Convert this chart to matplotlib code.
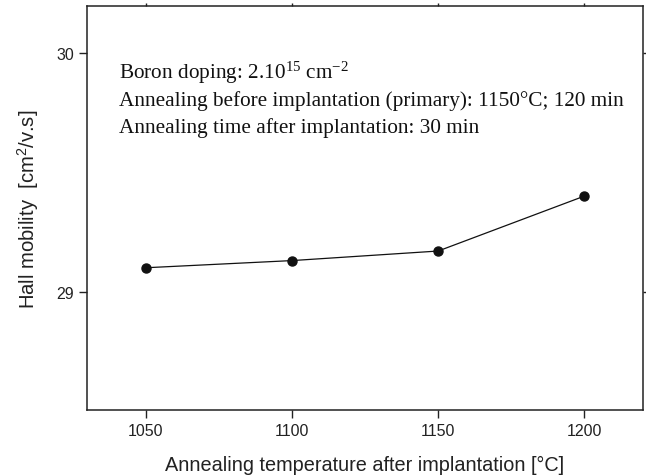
import matplotlib
matplotlib.use("Agg")
import matplotlib.pyplot as plt

temperature = [1050, 1100, 1150, 1200]
mobility = [29.10, 29.13, 29.17, 29.40]
xticks = [1050, 1100, 1150, 1200]
yticks = [29, 30]

plt.rcParams['mathtext.fontset'] = 'custom'
plt.rcParams['mathtext.rm'] = 'Liberation Serif'
plt.rcParams['mathtext.it'] = 'Liberation Serif:italic'
plt.rcParams['mathtext.sf'] = 'Liberation Sans'
plt.rcParams['font.family'] = ['Liberation Sans', 'DejaVu Sans']

fig = plt.figure(figsize=(6.46, 4.77), dpi=100)
ax = fig.add_axes([87/646, 1-411/477, (643-87)/646, (411-7)/477])

ax.plot(temperature, mobility, color='#111111', lw=0.9, marker='o',
        markersize=6.5, markerfacecolor='#111111', markeredgecolor='#111111')

ax.set_xlim(1030, 1220)
ax.set_ylim(28.505, 30.195)
ax.set_xticks(xticks)
ax.set_yticks(yticks)
ax.tick_params(axis='both', direction='out', length=6, width=1, labelsize=11.5, colors='#222222')
for s in ax.spines.values():
    s.set_linewidth(1.1)
    s.set_color('#222222')

ax.set_xlabel('Annealing temperature after implantation [°C]', fontsize=14.3, color='#222222', labelpad=12)
ax.set_ylabel(r'Hall mobility  [cm$^{\mathsf{2}}$/v.s]', fontsize=14.6, color='#222222', labelpad=11)

# small mirrored ticks on top and right
ax.tick_params(axis='x', which='major', top=True, labeltop=False)
ax.tick_params(axis='y', which='major', right=True, labelright=False)
for t in ax.xaxis.get_major_ticks():
    t.tick2line.set_markersize(2)
for t in ax.yaxis.get_major_ticks():
    t.tick2line.set_markersize(2)

lines = [r'Boron doping: 2.10$^{15}$ cm$^{-2}$',
         'Annealing before implantation (primary): 1150°C; 120 min',
         'Annealing time after implantation: 30 min']
ys = [0.822, 0.755, 0.688]
for t, y in zip(lines, ys):
    ax.text(0.0576, y, t, transform=ax.transAxes, fontsize=15.3, family='Liberation Serif',
            va='baseline', ha='left', color='#111111')

fig.savefig('out.png', dpi=100)
